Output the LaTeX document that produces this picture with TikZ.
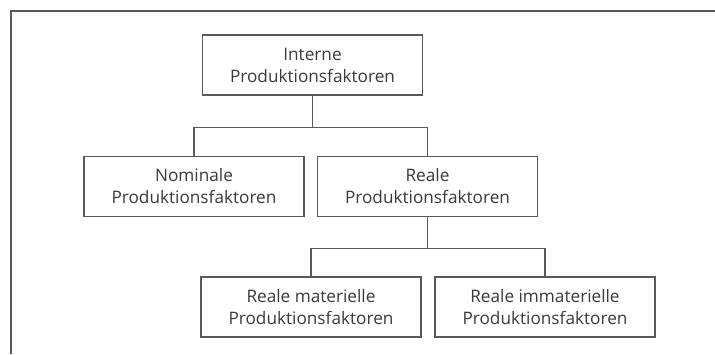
\documentclass[tikz,border=0pt]{standalone}
\usepackage{fontspec}
\setmainfont{Open Sans}
\usepackage{tikz}
\usetikzlibrary{positioning}

\definecolor{linegray}{HTML}{5A5A5A}
\definecolor{textgray}{HTML}{3A3A3A}

\tikzset{
    faktor/.style={draw=linegray, line width=0.6pt, minimum width=110pt, minimum height=30pt,
        inner sep=0pt, align=center, text=textgray, font=\fontsize{8.6}{11}\selectfont},
    branch/.style={draw=linegray, line width=0.6pt},
}

\begin{document}
\begin{tikzpicture}[x=0.5pt, y=-0.5pt]
        \useasboundingbox (0, 0) rectangle (715, 354);
        \draw[branch] (715, 11) -- (11, 11) -- (11, 354);
        \node[faktor] (intern) at (312.5, 65) {Interne\\Produktionsfaktoren};
        \node[faktor] (nominal) at (194, 186.5) {Nominale\\Produktionsfaktoren};
        \node[faktor] (real) at (427.5, 186.5) {Reale\\Produktionsfaktoren};
        \node[faktor] (material) at (311, 307) {Reale materielle\\Produktionsfaktoren};
        \node[faktor] (immaterial) at (545, 307) {Reale immaterielle\\Produktionsfaktoren};
        \draw[branch] (intern.south) -- ++(0, 32) -| (nominal.north);
        \draw[branch] (intern.south) -- ++(0, 32) -| (real.north);
        \draw[branch] (real.south) -- ++(0, 31) -| (material.north);
        \draw[branch] (real.south) -- ++(0, 31) -| (immaterial.north);
    \end{tikzpicture}
\end{document}
